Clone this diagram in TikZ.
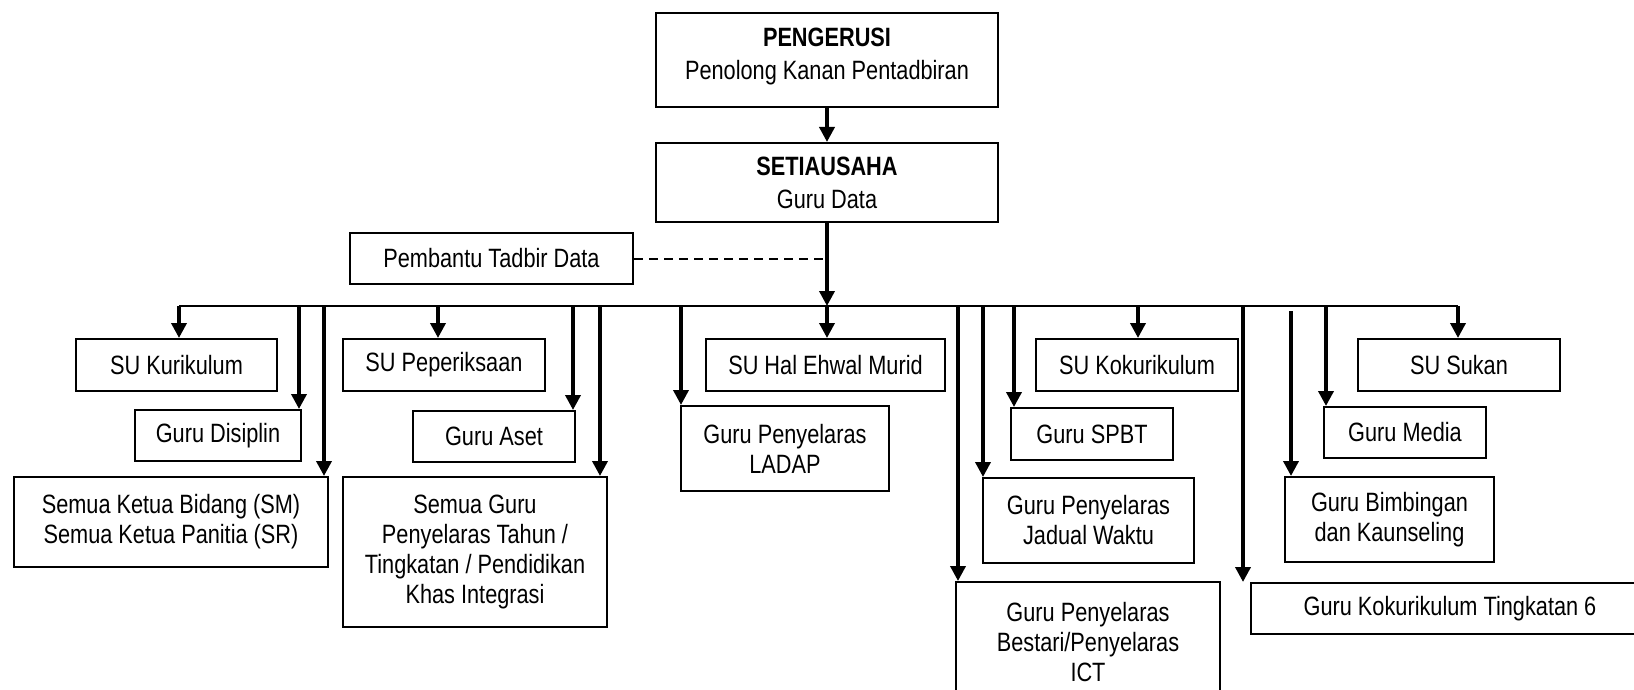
\documentclass[tikz,border=0pt]{standalone}
\usepackage{fontspec}
\setmainfont[FakeStretch=0.82]{Liberation Sans}
\usepackage{tikz}
\usetikzlibrary{arrows.meta, positioning}
\tikzset{
  box/.style 2 args={draw, line width=1pt, align=center, inner sep=0pt,
    minimum width=#1*0.5pt, minimum height=#2*0.5pt,
    font=\fontsize{13.25}{15}\selectfont},
  drop/.style={-{Triangle[width=7.5pt,length=7.5pt]}, line width=1.8pt},
  bus/.style={line width=1.3pt},
  helper/.style={dash pattern=on 4.5pt off 3pt, line width=1pt}
}

\begin{document}
\begin{tikzpicture}[x=0.5pt, y=-0.5pt]
\useasboundingbox (0,0) rectangle (1634,690);

\node[box={342}{94}, text depth=6.4pt] (pengerusi) at (827, 60) {\textbf{PENGERUSI}\\[1.5pt]Penolong Kanan Pentadbiran};
\node[box={342}{79}] (setiausaha) at (827, 182.5) {\textbf{SETIAUSAHA}\\[1.5pt]Guru Data};
\node[box={283}{51}] (pembantu) at (491.5, 258.5) {Pembantu Tadbir Data};

\node[box={201}{52}] (kurikulum) at (176.5, 365) {SU Kurikulum};
\node[box={166}{51}] (disiplin) at (218, 435.5) {Guru Disiplin};
\node[box={314}{90}] (ketua) at (171, 522) {Semua Ketua Bidang (SM)\\Semua Ketua Panitia (SR)};
\node[box={202}{52}] (peperiksaan) at (444, 365) {SU Peperiksaan};
\node[box={162}{51}] (aset) at (494, 436.5) {Guru Aset};
\node[box={264}{150}] (semuaguru) at (475, 552) {Semua Guru\\Penyelaras Tahun /\\Tingkatan / Pendidikan\\Khas Integrasi};
\node[box={208}{85}] (ladap) at (785, 448.5) {Guru Penyelaras\\LADAP};
\node[box={239}{52}] (murid) at (825.5, 365) {SU Hal Ehwal Murid};
\node[box={264}{120}] (bestari) at (1088, 642) {Guru Penyelaras\\Bestari/Penyelaras\\ICT};
\node[box={211}{85}] (jadual) at (1088.5, 520.5) {Guru Penyelaras\\Jadual Waktu};
\node[box={162}{52}] (spbt) at (1092, 434) {Guru SPBT};
\node[box={202}{52}] (kokurikulum) at (1137, 365) {SU Kokurikulum};
\node[box={398}{51}] (ting6) at (1450, 608.5) {Guru Kokurikulum Tingkatan 6};
\node[box={209}{85}] (bimbingan) at (1389.5, 519.5) {Guru Bimbingan\\dan Kaunseling};
\node[box={162}{51}] (media) at (1405, 432.5) {Guru Media};
\node[box={202}{52}] (sukan) at (1459, 365) {SU Sukan};

% bus coordinates
\coordinate (b1) at (179, 306);
\coordinate (b2) at (299, 306);
\coordinate (b3) at (324, 306);
\coordinate (b4) at (438, 306);
\coordinate (b5) at (573, 306);
\coordinate (b6) at (600, 306);
\coordinate (b7) at (681, 306);
\coordinate (b8) at (827, 306);
\coordinate (b9) at (958, 306);
\coordinate (b10) at (983, 306);
\coordinate (b11) at (1014, 306);
\coordinate (b12) at (1138, 306);
\coordinate (b13) at (1243, 306);
\coordinate (b14) at (1291, 311);
\coordinate (b15) at (1326, 306);
\coordinate (b16) at (1458, 306);

\draw (pengerusi) edge[drop] (setiausaha)
      (setiausaha) edge[drop] (b8);
\draw[helper] (pembantu.east) -- (pembantu.east -| b8);
\draw[bus] (b1) -- (b16);

\draw
(b1) edge[drop] (kurikulum.north -| b1)
(b2) edge[drop] (disiplin.north -| b2)
(b3) edge[drop] (ketua.north -| b3)
(b4) edge[drop] (peperiksaan.north -| b4)
(b5) edge[drop] (aset.north -| b5)
(b6) edge[drop] (semuaguru.north -| b6)
(b7) edge[drop] (ladap.north -| b7)
(b8) edge[drop] (murid.north -| b8)
(b9) edge[drop] (bestari.north -| b9)
(b10) edge[drop] (jadual.north -| b10)
(b11) edge[drop] (spbt.north -| b11)
(b12) edge[drop] (kokurikulum.north -| b12)
(b13) edge[drop] (ting6.north -| b13)
(b14) edge[drop] (bimbingan.north -| b14)
(b15) edge[drop] (media.north -| b15)
(b16) edge[drop] (sukan.north -| b16);
\end{tikzpicture}
\end{document}
